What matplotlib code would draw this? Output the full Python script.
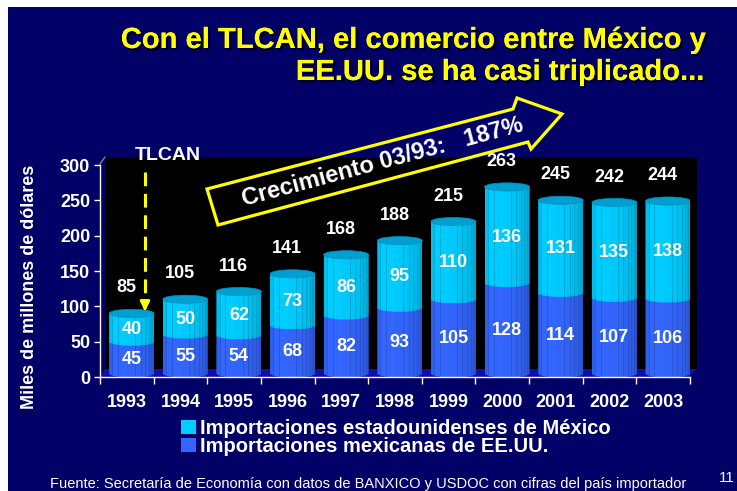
import numpy as np
import matplotlib
matplotlib.use("Agg")
import matplotlib.pyplot as plt
from matplotlib.patches import Rectangle, Polygon, Ellipse, Patch
from matplotlib import patheffects as pe
from matplotlib import colors as mcolors

plt.rcParams['font.family'] = ['Liberation Sans', 'DejaVu Sans']

# ---- data ----
years = ['1993', '1994', '1995', '1996', '1997', '1998', '1999', '2000', '2001', '2002', '2003']
imp_mx_from_us = [45, 55, 54, 68, 82, 93, 105, 128, 114, 107, 106]      # blue (bottom)
imp_us_from_mx = [40, 50, 62, 73, 86, 95, 110, 136, 131, 135, 138]      # cyan (top)
totals = [85, 105, 116, 141, 168, 188, 215, 263, 245, 242, 244]
y_ticks = [0, 50, 100, 150, 200, 250, 300]
series_names = ['Importaciones estadounidenses de México', 'Importaciones mexicanas de EE.UU.']

W, H = 737, 491
fig = plt.figure(figsize=(W / 100, H / 100), dpi=100, facecolor='white')

def fx(x):
    return x / W

def fy(y):
    return 1 - y / H

NAVY = '#000066'
CYAN = '#00CCFF'
CYAN_TOP = '#009FCF'
BLUE = '#3366FF'
YELLOW = '#FFFF00'

# background
fig.add_artist(Rectangle((fx(8), 0), 1 - fx(8), fy(7), transform=fig.transFigure,
                         facecolor=NAVY, edgecolor='none', zorder=-3))
# back wall
fig.add_artist(Rectangle((fx(105), fy(369)), fx(697) - fx(105), fy(157) - fy(369),
                         transform=fig.transFigure, facecolor='black', edgecolor='none', zorder=-2))
# floor
fig.add_artist(Polygon([(fx(100), fy(377)), (fx(105), fy(369)), (fx(697), fy(369)), (fx(690), fy(377))],
                       closed=True, transform=fig.transFigure, facecolor='#1010A8', edgecolor='none', zorder=-2))
# wall edge
fig.add_artist(plt.Line2D([fx(100), fx(105)], [fy(164), fy(157)], transform=fig.transFigure,
                          color='#9999BB', lw=0.8, zorder=-1))

ax = fig.add_axes([fx(100), fy(377), fx(690) - fx(100), fy(165) - fy(377)])
ax.set_facecolor('none')
n = len(years)
ax.set_xlim(-0.5, n - 0.5)
ax.set_ylim(0, 300)

BASE = 5
BW = 0.84
EH = 11.5
XOFF = 0.09

def shade(c, f):
    r, g, b = mcolors.to_rgb(c)
    return (r * f, g * f, b * f)

edges = [0, 0.07, 0.2, 0.4, 0.58, 0.7, 0.8, 0.88, 0.94, 1.0]
facs = [0.93, 1.0, 1.0, 0.98, 0.96, 0.93, 0.9, 0.87, 0.82]
lines_at = [0.07, 0.2, 0.58, 0.7, 0.8, 0.88, 0.94]

def body(x, bottom, height, color):
    t = np.linspace(np.pi, 2 * np.pi, 40)
    arc = np.column_stack([x + BW / 2 * np.cos(t), bottom + EH / 2 * np.sin(t)])
    top = bottom + height
    pts = np.vstack([[x - BW / 2, top], arc, [x + BW / 2, top]])
    clip = Polygon(pts, closed=True, transform=ax.transData, facecolor='none', edgecolor='none')
    ax.add_patch(clip)
    left = x - BW / 2
    for i in range(len(edges) - 1):
        bars = ax.bar(left + edges[i] * BW, height + EH / 2, width=(edges[i + 1] - edges[i]) * BW,
                      bottom=bottom - EH / 2, align='edge', color=shade(color, facs[i]),
                      linewidth=0, zorder=2)
        for b in bars:
            b.set_clip_path(clip)
    xs = [left + e * BW for e in lines_at]
    vl = ax.vlines(xs, bottom - EH / 2, top, colors=[shade(color, 0.78)], linewidth=0.5, zorder=2.1)
    vl.set_clip_path(clip)

for i in range(n):
    x = i + XOFF
    b1 = BASE
    v1 = imp_mx_from_us[i]
    v2 = imp_us_from_mx[i]
    body(x, b1, v1, BLUE)
    body(x, b1 + v1, v2, CYAN)
    top = b1 + v1 + v2
    ax.add_patch(Ellipse((x, top), BW, EH, facecolor=CYAN_TOP, edgecolor='#0090C0', lw=0.5, zorder=3))
    ax.text(x, b1 + v1 / 2 - 3, str(v1), ha='center', va='center', color='white',
            fontsize=13, fontweight='bold', zorder=4)
    ax.text(x, b1 + v1 + v2 / 2 - 3, str(v2), ha='center', va='center', color='white',
            fontsize=13, fontweight='bold', zorder=4)
    ax.text(x - 0.1, top + 36, str(totals[i]), ha='center', va='center', color='white',
            fontsize=13, fontweight='bold', zorder=4)

# axes styling
for s in ['top', 'right']:
    ax.spines[s].set_visible(False)
for s in ['left', 'bottom']:
    ax.spines[s].set_color('white')
    ax.spines[s].set_linewidth(1)
ax.set_yticks(y_ticks)
ax.set_yticklabels([str(v) for v in y_ticks])
ax.tick_params(axis='y', colors='white', length=4, width=1, pad=3, labelsize=13)
ax.set_xticks(range(n))
ax.set_xticklabels(years)
ax.tick_params(axis='x', which='major', colors='white', length=0, pad=12, labelsize=13)
ax.set_xticks(np.arange(-0.5, n), minor=True)
ax.tick_params(axis='x', which='minor', colors='white', length=5, width=1)
for lab in ax.get_xticklabels() + ax.get_yticklabels():
    lab.set_fontweight('bold')

# TLCAN marker
ax.plot([0.339, 0.339], [290, 100], color=YELLOW, lw=2.2, linestyle=(0, (4.5, 2.5)), zorder=5, clip_on=False)
ax.annotate('', xy=(0.339, 89), xytext=(0.339, 104),
            arrowprops=dict(arrowstyle='-|>', color=YELLOW, lw=2, mutation_scale=14), zorder=5)
fig.text(fx(168), fy(155), 'TLCAN', color='white', fontsize=14, fontweight='bold', ha='center', va='center')

# growth arrow
arrow_pts = [(207, 189), (513, 109), (517, 98), (562, 114), (531, 149), (528, 142), (218, 225)]
fig.add_artist(Polygon([(fx(a), fy(b)) for a, b in arrow_pts], closed=True, transform=fig.transFigure,
                       fill=False, edgecolor=YELLOW, lw=2.3, joinstyle='miter', zorder=5))
fig.text(fx(383), fy(162), 'Crecimiento 03/93:   187%', color='white', fontsize=17, fontweight='bold',
         ha='center', va='center', rotation=15, rotation_mode='anchor', zorder=6)

# title
shadow = [pe.withSimplePatchShadow(offset=(1.5, -1.5), shadow_rgbFace='#000000', alpha=0.9), pe.Normal()]
fig.text(fx(705), fy(48), 'Con el TLCAN, el comercio entre México y', color=YELLOW, fontsize=21,
         fontweight='bold', ha='right', va='baseline', path_effects=shadow)
fig.text(fx(705), fy(80), 'EE.UU. se ha casi triplicado...', color=YELLOW, fontsize=21,
         fontweight='bold', ha='right', va='baseline', path_effects=shadow)

# y label
fig.text(fx(30), fy(287), 'Miles de millones de dólares', color='white', fontsize=13, fontweight='bold',
         rotation=90, ha='center', va='center')

# legend
handles = [Patch(facecolor=CYAN, edgecolor='none'), Patch(facecolor=BLUE, edgecolor='none')]
leg = fig.legend(handles, series_names, loc='upper left', bbox_to_anchor=(fx(181), fy(419)),
                 frameon=False, fontsize=14.5, handlelength=0.75, handleheight=0.75, handletextpad=0.2,
                 labelspacing=-0.05, borderpad=0, borderaxespad=0)
for t in leg.get_texts():
    t.set_color('white')
    t.set_fontweight('bold')

# footer
fig.text(fx(50), fy(484), 'Fuente: Secretaría de Economía con datos de BANXICO y USDOC con cifras del país importador',
         color='white', fontsize=10.5, ha='left', va='center')
fig.text(fx(735), fy(478), '11', color='white', fontsize=11, ha='right', va='center')

fig.savefig('out.png', dpi=100, facecolor=fig.get_facecolor())
